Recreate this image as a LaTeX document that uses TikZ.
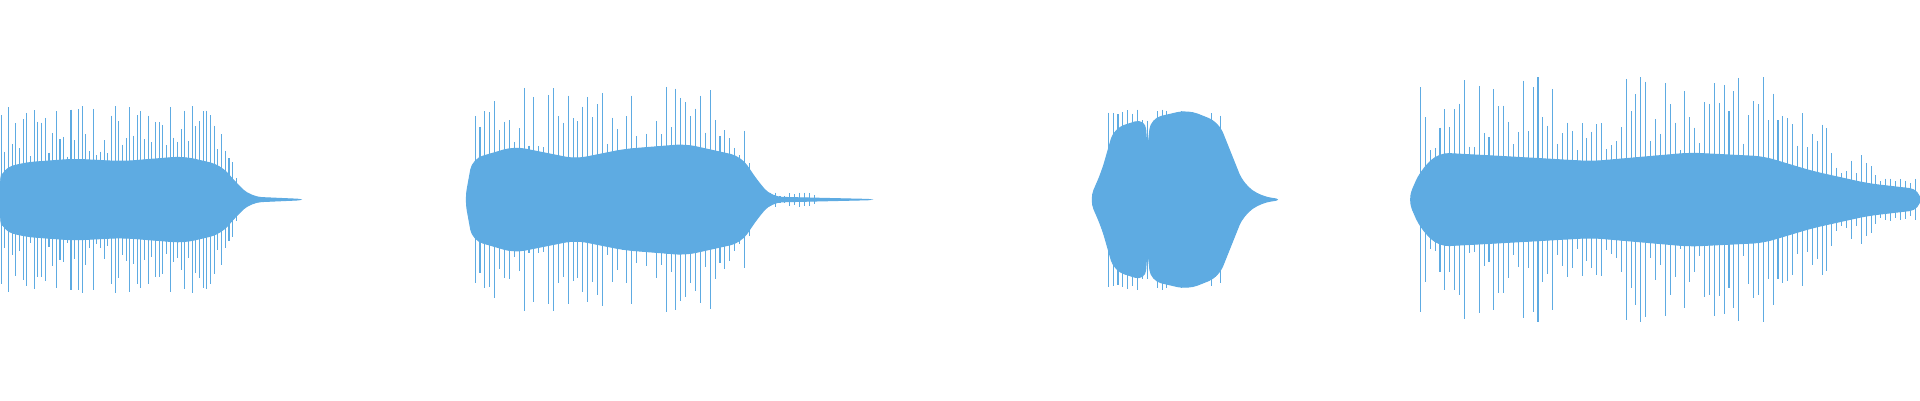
\documentclass[tikz,border=0pt]{standalone}
\usepackage{tikz}
\definecolor{wave}{RGB}{94,171,226}
\begin{document}
\begin{tikzpicture}[x=0.012245cm, y=-0.012245cm]
	\tikzstyle{spike} = [wave, line width=0.3pt]
	\tikzstyle{core} = [fill=wave, draw=wave, line width=0.3pt, rounded corners=3pt]
	\useasboundingbox (0,0) rectangle (1568,326.7);
	\pgfmathsetseed{4711}
	% first burst
	\fill[core] (0,150) -- (2,138) -- (20,133) -- (60,130) -- (100,132) -- (150,128) -- (180,135) -- (195,152) -- (205,161) -- (250,163)
	  -- (205,165) -- (195,174) -- (180,191) -- (150,198) -- (100,194) -- (60,196) -- (20,193) -- (2,188) -- (0,176) -- cycle;
	\foreach \x in {1,4,...,195} {
	  \pgfmathsetmacro\h{(\x<180 ? 1 : (200-\x)/20)*(35+42*rnd)}
	  \draw[spike] (\x,163-\h) -- (\x,163+\h);
	}
	% second burst
	\fill[core] (380,163) -- (386,130) -- (420,120) -- (470,130) -- (510,122) -- (560,118) -- (605,128) -- (620,150) -- (630,161) -- (715,163)
	  -- (630,165) -- (620,176) -- (605,198) -- (560,208) -- (510,204) -- (470,196) -- (420,206) -- (386,196) -- cycle;
	\foreach \x in {388,392,...,616} {
	  \pgfmathsetmacro\h{(\x<600 ? 1 : (620-\x)/20)*(40+55*rnd)}
	  \draw[spike] (\x,163-\h) -- (\x,163+\h);
	}
	\foreach \x in {625,629,...,665} {
	  \pgfmathsetmacro\h{2+4*rnd}
	  \draw[spike] (\x,163-\h) -- (\x,163+\h);
	}
	% third burst
	\fill[core] (890,163) -- (900,140) -- (910,105) -- (935,97) -- (937,125) -- (940,97) -- (970,90) -- (995,100) -- (1005,125) -- (1015,150) -- (1030,161) -- (1048,163)
	  -- (1030,165) -- (1015,176) -- (1005,201) -- (995,226) -- (970,236) -- (940,229) -- (937,201) -- (935,229) -- (910,221) -- (900,186) -- cycle;
	\foreach \x in {905,909,...,1000} {
	  \pgfmathsetmacro\h{62+12*rnd}
	  \draw[spike] (\x,163-\h) -- (\x,163+\h);
	}
	% fourth burst
	\fill[core] (1150,163) -- (1160,140) -- (1175,125) -- (1230,128) -- (1300,132) -- (1380,125) -- (1440,128) -- (1480,140) -- (1525,150) -- (1568,155)
	  -- (1568,171) -- (1525,176) -- (1480,186) -- (1440,198) -- (1380,201) -- (1300,194) -- (1230,198) -- (1175,201) -- (1160,186) -- cycle;
	\foreach \x in {1160,1164,...,1566} {
	  \pgfmathsetmacro\h{(\x<1440 ? 1 : max(0.2,(1568-\x)/128))*(40+60*rnd)}
	  \draw[spike] (\x,163-\h) -- (\x,163+\h);
	}
\end{tikzpicture}
\end{document}
